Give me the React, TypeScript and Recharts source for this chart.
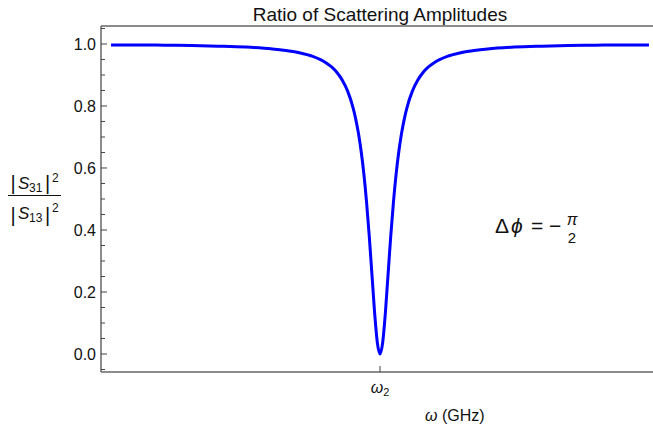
import React from "react";
import { LineChart, Line, XAxis, YAxis } from "recharts";

const omega = [
  -1, -0.9, -0.8, -0.7, -0.6, -0.5, -0.4, -0.35, -0.3, -0.25, -0.2, -0.18, -0.16, -0.14, -0.12, -0.1,
  -0.09, -0.08, -0.07, -0.06, -0.05, -0.04, -0.03, -0.02, -0.01, 0,
  0.01, 0.02, 0.03, 0.04, 0.05, 0.06, 0.07, 0.08, 0.09, 0.1, 0.12, 0.14, 0.16, 0.18, 0.2, 0.25,
  0.3, 0.35, 0.4, 0.5, 0.6, 0.7, 0.8, 0.9, 1,
];
const ratio = [
  0.997, 0.997, 0.996, 0.995, 0.993, 0.99, 0.984, 0.979, 0.972, 0.96, 0.939, 0.926, 0.908, 0.883, 0.847, 0.794,
  0.757, 0.711, 0.653, 0.581, 0.49, 0.381, 0.257, 0.133, 0.037, 0.0,
  0.037, 0.133, 0.257, 0.381, 0.49, 0.581, 0.653, 0.711, 0.757, 0.794, 0.847, 0.883, 0.908, 0.926, 0.939, 0.96,
  0.972, 0.979, 0.984, 0.99, 0.993, 0.995, 0.996, 0.997, 0.997,
];
const yTicks = [-0.05, 0, 0.05, 0.1, 0.15, 0.2, 0.25, 0.3, 0.35, 0.4, 0.45, 0.5, 0.55, 0.6, 0.65, 0.7, 0.75, 0.8, 0.85, 0.9, 0.95, 1.0, 1.05];
const yLabels = ["0.0", "0.2", "0.4", "0.6", "0.8", "1.0"];
const xTicks = [0];
const xTickLabel = "ω";
const titleText = "Ratio of Scattering Amplitudes";

const data = omega.map((w, i) => ({ w, r: ratio[i] }));

const FONT = "'Liberation Sans', Arial, sans-serif";
const PLOT_LEFT = 101;
const PLOT_BOTTOM = 372;

const YTick = (props: any) => {
  const { y, payload } = props;
  const x = PLOT_LEFT;
  const v = payload.value;
  const label = yLabels.find((l) => Math.abs(parseFloat(l) - v) < 1e-6);
  const len = label ? 6 : 4;
  return (
    <g>
      <line x1={x} y1={y} x2={x + len} y2={y} stroke="#444" strokeWidth={1} />
      {label && (
        <text x={x - 5} y={y} dy="0.36em" textAnchor="end" fontSize={16} fontFamily={FONT} fill="#111">
          {label}
        </text>
      )}
    </g>
  );
};

const XTick = (props: any) => {
  const { x } = props;
  const y = PLOT_BOTTOM;
  return (
    <g>
      <line x1={x} y1={y} x2={x} y2={y - 6} stroke="#444" strokeWidth={1} />
      <text x={x} y={y + 21} textAnchor="middle" fontSize={16} fontFamily={FONT} fill="#111">
        <tspan fontStyle="italic">{xTickLabel}</tspan>
        <tspan fontSize={11} dy={3}>2</tspan>
      </text>
    </g>
  );
};

export default function App() {
  return (
    <div style={{ position: "absolute", left: 0, top: 0, width: 653, height: 428, overflow: "hidden", background: "#fff" }}>
      <LineChart width={670} height={428} data={data} margin={{ top: 25, right: 11, bottom: 55, left: 100 }}>
        <XAxis
          dataKey="w"
          type="number"
          domain={[-1.0372, 1.0372]}
          ticks={xTicks}
          height={1}
          tickSize={0}
          tickMargin={0}
          tickLine={false}
          tick={<XTick />}
          axisLine={{ stroke: "#666", strokeWidth: 1.5 }}
        />
        <XAxis
          xAxisId="top"
          orientation="top"
          dataKey="w"
          type="number"
          domain={[-1.0372, 1.0372]}
          height={1}
          tick={false}
          tickLine={false}
          axisLine={{ stroke: "#666", strokeWidth: 1.5 }}
        />
        <YAxis
          type="number"
          domain={[-0.058, 1.058]}
          ticks={yTicks}
          width={1}
          tickSize={0}
          tickMargin={0}
          tickLine={false}
          tick={<YTick />}
          interval={0}
          axisLine={{ stroke: "#666", strokeWidth: 1.5 }}
        />
        <Line
          dataKey="r"
          type="monotone"
          stroke="#0000ff"
          strokeWidth={3}
          dot={false}
          isAnimationActive={false}
        />
      </LineChart>
      <svg
        width={653}
        height={428}
        style={{ position: "absolute", left: 0, top: 0, pointerEvents: "none" }}
        fontFamily={FONT}
      >
        <text x={380} y={21} textAnchor="middle" fontSize={19} fill="#111">
          {titleText}
        </text>
        {/* y-axis label: |S31|^2 / |S13|^2 */}
        <g fill="#111">
          <text x={13} y={190} textAnchor="middle" fontSize={20} transform="scale(1,1)">|</text>
          <text x={18} y={189} fontSize={17} fontStyle="italic">S</text>
          <text x={29} y={192} fontSize={12}>31</text>
          <text x={47.5} y={190} textAnchor="middle" fontSize={20}>|</text>
          <text x={52} y={182} fontSize={12}>2</text>
          <line x1={8} y1={195.5} x2={61} y2={195.5} stroke="#111" strokeWidth={1} />
          <text x={13} y={222} textAnchor="middle" fontSize={20}>|</text>
          <text x={18} y={219} fontSize={17} fontStyle="italic">S</text>
          <text x={29} y={222} fontSize={12}>13</text>
          <text x={47.5} y={222} textAnchor="middle" fontSize={20}>|</text>
          <text x={52} y={212} fontSize={12}>2</text>
        </g>
        {/* annotation */}
        <g fill="#111" fontSize={21}>
          <text x={495} y={233}>Δ</text>
          <text x={511} y={233} fontStyle="italic">ϕ</text>
          <text x={531} y={233}>=</text>
          <text x={549} y={233}>−</text>
          <text x={572} y={225} textAnchor="middle" fontSize={16} fontStyle="italic">π</text>
          <text x={572} y={243} textAnchor="middle" fontSize={15}>2</text>
        </g>
        <text x={425} y={421} fontSize={16} fill="#111">
          <tspan fontStyle="italic">ω</tspan> (GHz)
        </text>
      </svg>
    </div>
  );
}
